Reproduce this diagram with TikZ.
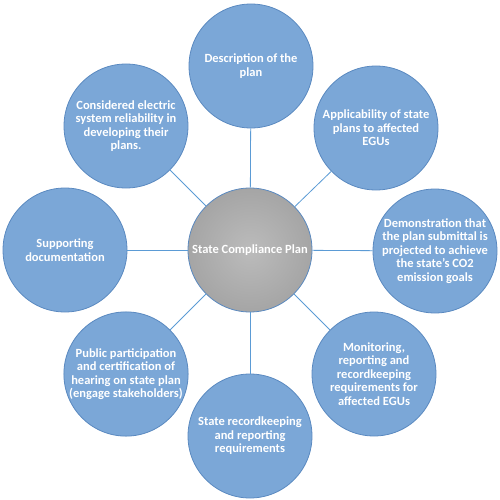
\documentclass[tikz,border=0pt]{standalone}
\usepackage{fontspec}
\setmainfont{Carlito}
\usepackage{tikz}
\usetikzlibrary{positioning, calc}
\definecolor{topicblue}{HTML}{7BA7D7}
\definecolor{topicedge}{HTML}{5A89C0}
\definecolor{linkblue}{HTML}{5B9BD5}
\definecolor{hubgray}{HTML}{A5A5A5}
\definecolor{hubedge}{HTML}{7F8C9A}

\begin{document}
\begin{tikzpicture}[x=1pt, y=-1pt,
    topic/.style={circle, draw=topicedge, line width=0.8pt, fill=topicblue,
      minimum size=124pt, inner sep=0pt, text=white, align=center,
      font=\fontsize{12.5}{13.5}\selectfont\bfseries},
    hub/.style={circle, draw=topicedge, line width=0.8pt, inner color=hubgray!75,
      outer color=hubgray, minimum size=124pt, inner sep=0pt, text=white,
      font=\fontsize{12.5}{13.5}\selectfont\bfseries},
    link/.style={linkblue, line width=0.8pt}]
    \useasboundingbox (0,0) rectangle (500,500);
    \node[hub] (plan) at (250,250) {State Compliance Plan};
    \node[topic] (descr) at (251,66) {Description of the\\plan};
    \node[topic] (apply) at (376,128) {Applicability of state\\plans to affected\\EGUs};
    \node[topic] (demo) at (435,251) {Demonstration that\\the plan submittal is\\projected to achieve\\the state’s CO2\\emission goals};
    \node[topic] (monitor) at (374,374) {Monitoring,\\reporting and\\recordkeeping\\requirements for\\affected EGUs};
    \node[topic] (record) at (250,436) {State recordkeeping\\and reporting\\requirements};
    \node[topic] (public) at (126,374) {Public participation\\and certification of\\hearing on state plan\\(engage stakeholders)};
    \node[topic] (support) at (65,250) {Supporting\\documentation};
    \node[topic] (reliab) at (126,126) {Considered electric\\system reliability in\\developing their\\plans.};
    % spokes from the plan to every topic
    \foreach \t in {descr, apply, demo, monitor, record, public, support, reliab}
      \draw[link] (plan) -- (\t);
\end{tikzpicture}
\end{document}
